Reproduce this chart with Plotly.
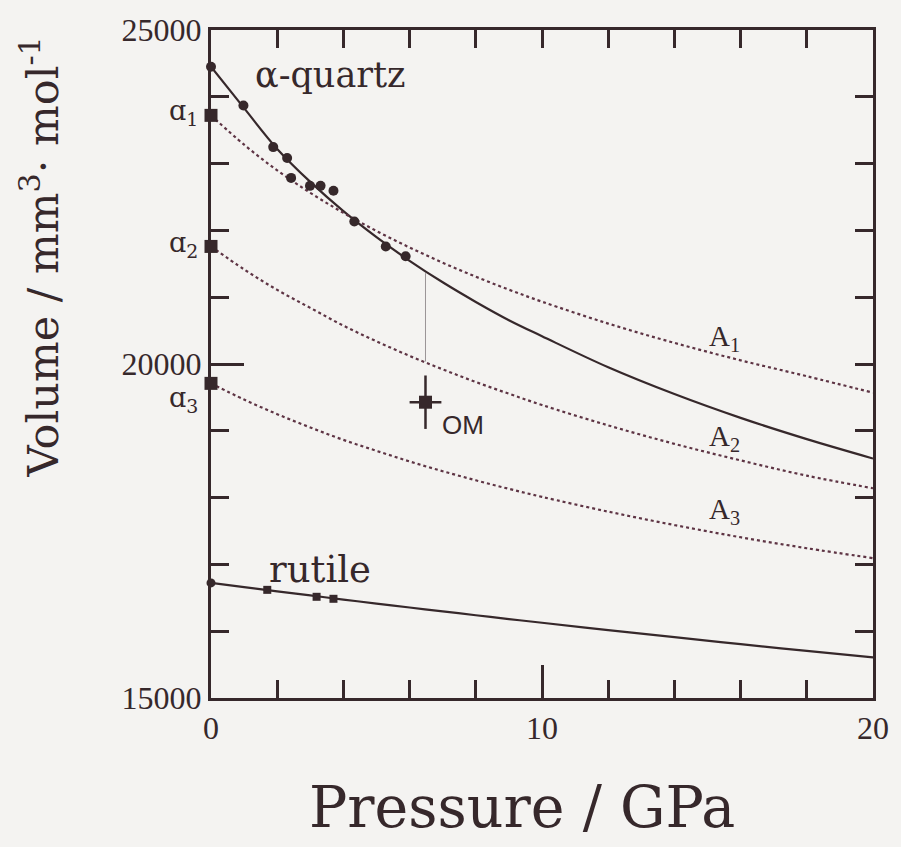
import plotly.graph_objects as go

# Pressure grid (GPa) for the fitted equation-of-state curves
p_curve = [0, 1, 2, 3, 4, 5, 6, 7, 8, 9, 10, 12, 14, 16, 18, 20]

# alpha-quartz: fitted curve and measured volumes (mm^3/mol)
quartz_fit = [24450, 23830, 23220, 22726, 22289, 21900, 21545, 21223, 20929,
              20656, 20416, 19951, 19550, 19193, 18875, 18585]
quartz_p = [0.0, 0.98, 1.88, 2.30, 2.42, 2.99, 3.31, 3.70, 4.33, 5.28, 5.88]
quartz_v = [24450, 23870, 23247, 23083, 22786, 22667, 22667, 22593, 22132, 21760, 21612]

# amorphous curves A1..A3 (dotted) starting from a1..a3 at zero pressure
a1_fit = [23722, 23283, 22899, 22562, 22263, 21991, 21744, 21516, 21307,
          21113, 20933, 20605, 20316, 20055, 19817, 19570]
a2_fit = [21760, 21416, 21109, 20840, 20574, 20340, 20121, 19920, 19730,
          19555, 19386, 19081, 18805, 18557, 18328, 18140]
a3_fit = [19710, 19468, 19249, 19050, 18864, 18700, 18541, 18395, 18259,
          18131, 18011, 17790, 17589, 17406, 17242, 17094]
a_start_v = [23722, 21760, 19710]
a_names = ["ɑ<sub>1</sub>", "ɑ<sub>2</sub>", "ɑ<sub>3</sub>"]
A_names = ["A<sub>1</sub>", "A<sub>2</sub>", "A<sub>3</sub>"]

# rutile: fitted curve and measured volumes
rutile_fit = [16723, 16660, 16597, 16535, 16474, 16414, 16355, 16297, 16239,
              16182, 16126, 16016, 15910, 15806, 15705, 15608]
rutile_p = [0.0, 1.70, 3.19, 3.70]
rutile_v = [16723, 16619, 16515, 16485]

# OM point with its error bars, and the drop line from the quartz curve
om_p = [6.48]
om_v = [19428]
om_err_p = [0.48]
om_err_v = [400]
drop_p = [6.48, 6.48]
drop_v = [21359, 20037]

# axis ticks
x_ticks = [0, 10, 20]
y_ticks = [15000, 20000, 25000]

ink = "#36282b"
dots = "#5e3444"
serif = "DejaVu Serif"

fig = go.Figure()

fig.add_trace(go.Scatter(x=p_curve, y=quartz_fit, mode="lines",
                         line=dict(color=ink, width=2.2, shape="spline")))
for series in (a1_fit, a2_fit, a3_fit):
    fig.add_trace(go.Scatter(x=p_curve, y=series, mode="lines",
                             line=dict(color=dots, width=2.2, dash="dot", shape="spline")))
fig.add_trace(go.Scatter(x=p_curve, y=rutile_fit, mode="lines",
                         line=dict(color=ink, width=2.2, shape="spline")))
fig.add_trace(go.Scatter(x=drop_p, y=drop_v, mode="lines",
                         line=dict(color="#9a9496", width=1)))

fig.add_trace(go.Scatter(x=quartz_p, y=quartz_v, mode="markers",
                         marker=dict(symbol="circle", size=10, color=ink)))
fig.add_trace(go.Scatter(x=[0] * len(a_start_v), y=a_start_v, mode="markers",
                         marker=dict(symbol="square", size=13, color=ink)))
fig.add_trace(go.Scatter(x=rutile_p[:1], y=rutile_v[:1], mode="markers",
                         marker=dict(symbol="circle", size=9, color=ink)))
fig.add_trace(go.Scatter(x=rutile_p[1:], y=rutile_v[1:], mode="markers",
                         marker=dict(symbol="square", size=8, color=ink)))
fig.add_trace(go.Scatter(x=om_p, y=om_v, mode="markers",
                         marker=dict(symbol="square", size=13, color=ink),
                         error_x=dict(type="data", array=om_err_p, color=ink, thickness=2.5, width=0),
                         error_y=dict(type="data", array=om_err_v, color=ink, thickness=2.5, width=0)))

for tr in fig.data:
    tr.update(showlegend=False, hoverinfo="skip", cliponaxis=False)

# curve labels
labels = [
    (3.6, 24330, "α-quartz", serif, 35),
    (3.3, 16920, "rutile", serif, 37),
    (7.6, 19090, "OM", "Liberation Sans", 26),
]
for px, v, txt, fam, sz in labels:
    fig.add_annotation(x=px, y=v, text=txt, showarrow=False,
                       font=dict(family=fam, size=sz, color=ink))
for yp, txt in zip([0.905, 0.708, 0.447], a_names):
    fig.add_annotation(xref="paper", yref="paper", x=-0.066, y=yp, text=txt,
                       showarrow=False, font=dict(family=serif, size=27, color=ink))
for v, txt in zip([20393, 18892, 17793], A_names):
    fig.add_annotation(x=15.5, y=v, text=txt, showarrow=False,
                       font=dict(family="Liberation Serif", size=29, color=ink))

# axis titles
fig.add_annotation(xref="paper", yref="paper", x=-0.303, y=0.66,
                   text="Volume / mm<sup>3</sup>· mol<sup>-1</sup>", textangle=-90,
                   showarrow=False, font=dict(family=serif, size=43, color=ink))
fig.add_annotation(xref="paper", yref="paper", x=0.47, y=-0.215,
                   text="Pressure / GPa", showarrow=False,
                   font=dict(family=serif, size=57, color=ink))

tick_font = dict(family="Liberation Serif", size=32, color=ink)
fig.update_layout(
    width=901, height=847,
    margin=dict(l=211, r=22, t=25, b=149),
    paper_bgcolor="#f4f3f1", plot_bgcolor="#f4f3f1",
    xaxis=dict(range=[0, 20], tickvals=x_ticks, ticktext=[str(t) for t in x_ticks],
               ticks="inside", ticklen=33,
               tickwidth=2.5, tickcolor=ink, showline=True, linecolor=ink, linewidth=3,
               showgrid=False, zeroline=False, tickfont=tick_font,
               minor=dict(dtick=2, ticks="inside", ticklen=18, tickwidth=2.5, tickcolor=ink)),
    yaxis=dict(range=[15000, 25000], tickvals=y_ticks, ticktext=[str(t) for t in y_ticks],
               ticks="inside", ticklen=33, tickwidth=2.5, tickcolor=ink, showline=True,
               linecolor=ink, linewidth=3, showgrid=False, zeroline=False, tickfont=tick_font,
               minor=dict(dtick=1000, ticks="inside", ticklen=18, tickwidth=2.5, tickcolor=ink)),
    xaxis2=dict(range=[0, 20], overlaying="x", side="top", dtick=2, ticks="inside",
                ticklen=18, tickwidth=2.5, tickcolor=ink, showline=True, linecolor=ink,
                linewidth=3, showgrid=False, zeroline=False, showticklabels=False),
    yaxis2=dict(range=[15000, 25000], overlaying="y", side="right", dtick=1000,
                ticks="inside", ticklen=18, tickwidth=2.5, tickcolor=ink, showline=True,
                linecolor=ink, linewidth=3, showgrid=False, zeroline=False,
                showticklabels=False),
)
# an empty trace so the top and right axes are drawn
fig.add_trace(go.Scatter(x=[None], y=[None], xaxis="x2", yaxis="y2",
                         showlegend=False, hoverinfo="skip"))

fig.write_html("out.html")
